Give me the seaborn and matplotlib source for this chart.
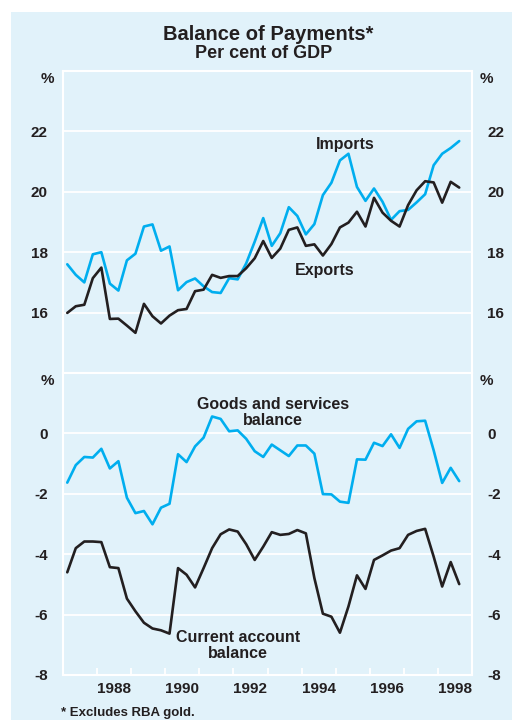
import numpy as np
import pandas as pd
import matplotlib
matplotlib.use("Agg")
import matplotlib.pyplot as plt
import seaborn as sns
from matplotlib.patches import Rectangle

# Quarterly data, 1987 Q1 to 1998 Q3, per cent of GDP
quarters = pd.period_range("1987Q1", "1998Q3", freq="Q")

imports = [17.60, 17.25, 17.00, 17.93, 18.00, 16.96, 16.73, 17.73, 17.95, 18.85,
           18.92, 18.05, 18.19, 16.74, 17.01, 17.13, 16.87, 16.68, 16.65, 17.14,
           17.10, 17.63, 18.35, 19.13, 18.21, 18.63, 19.49, 19.20, 18.59, 18.93,
           19.89, 20.30, 21.04, 21.26, 20.16, 19.70, 20.11, 19.67, 19.07, 19.36,
           19.40, 19.65, 19.92, 20.88, 21.26, 21.45, 21.68]
exports = [15.99, 16.21, 16.26, 17.14, 17.49, 15.79, 15.80, 15.57, 15.33, 16.29,
           15.88, 15.64, 15.90, 16.08, 16.12, 16.71, 16.76, 17.25, 17.15, 17.21,
           17.21, 17.47, 17.80, 18.37, 17.81, 18.12, 18.74, 18.82, 18.21, 18.26,
           17.89, 18.27, 18.82, 18.98, 19.34, 18.85, 19.80, 19.31, 19.04, 18.85,
           19.56, 20.05, 20.35, 20.31, 19.64, 20.33, 20.14]
goods_services = [-1.63, -1.05, -0.78, -0.80, -0.51, -1.16, -0.92, -2.13, -2.64, -2.57,
                  -3.01, -2.46, -2.33, -0.69, -0.95, -0.43, -0.14, 0.56, 0.48, 0.07,
                  0.10, -0.18, -0.59, -0.78, -0.37, -0.56, -0.75, -0.40, -0.40, -0.67,
                  -2.01, -2.02, -2.26, -2.30, -0.86, -0.87, -0.31, -0.42, -0.03, -0.48,
                  0.15, 0.40, 0.42, -0.56, -1.64, -1.14, -1.58]
current_account = [-4.60, -3.80, -3.58, -3.58, -3.60, -4.43, -4.46, -5.47, -5.89, -6.27,
                   -6.46, -6.52, -6.63, -4.46, -4.68, -5.10, -4.46, -3.80, -3.34, -3.18,
                   -3.25, -3.67, -4.19, -3.75, -3.27, -3.36, -3.33, -3.20, -3.31, -4.79,
                   -5.97, -6.07, -6.60, -5.73, -4.70, -5.15, -4.19, -4.04, -3.88, -3.80,
                   -3.36, -3.23, -3.16, -4.08, -5.07, -4.26, -4.99]

year_labels = ["1988", "1990", "1992", "1994", "1996", "1998"]
top_ticks = [16, 18, 20, 22]
bottom_ticks = [-8, -6, -4, -2, 0]

# mid-quarter position in decimal years
t = quarters.year + (quarters.quarter - 0.5) / 4
df = pd.DataFrame({"t": t, "Imports": imports, "Exports": exports,
                   "Goods": goods_services, "Current": current_account})

BG = "#E1F2FA"
CYAN = "#00AEEF"
INK = "#231F20"

sns.set_theme(style="white")
plt.rcParams["font.family"] = ["Liberation Sans", "DejaVu Sans"]
plt.rcParams["font.weight"] = "bold"

fig = plt.figure(figsize=(5.12, 7.2), dpi=100)
fig.patches.append(Rectangle((11 / 512, 0), 1, 1 - 12 / 720, transform=fig.transFigure,
                             facecolor=BG, edgecolor="none", zorder=-10))

ax1 = fig.add_axes([63 / 512, 1 - 373 / 720, 409 / 512, 302 / 720])
ax2 = fig.add_axes([63 / 512, 1 - 675 / 720, 409 / 512, 302 / 720])

sns.lineplot(data=df, x="t", y="Imports", ax=ax1, color=CYAN, lw=1.9)
sns.lineplot(data=df, x="t", y="Exports", ax=ax1, color=INK, lw=1.9)
sns.lineplot(data=df, x="t", y="Goods", ax=ax2, color=CYAN, lw=1.9)
sns.lineplot(data=df, x="t", y="Current", ax=ax2, color=INK, lw=1.9)

for ax, lim, ticks in [(ax1, (14, 24), top_ticks), (ax2, (-8, 2), bottom_ticks)]:
    ax.set_facecolor(BG)
    ax.set_xlim(1987, 1999)
    ax.set_ylim(*lim)
    ax.set_yticks(ticks)
    ax.set_yticklabels([str(v) for v in ticks], fontsize=11, fontweight="bold", color=INK)
    ax.grid(axis="y", color="white", lw=1.3)
    ax.set_axisbelow(True)
    ax.set_xlabel("")
    ax.set_ylabel("")
    for s in ax.spines.values():
        s.set_color("white")
        s.set_linewidth(1.5)
    ax.tick_params(axis="y", left=False, right=False, labelleft=True, labelright=True, pad=5)
    ax.text(-0.037, 0.975, "%", transform=ax.transAxes, ha="center", va="center",
            fontsize=11, fontweight="bold", color=INK)
    ax.text(1.034, 0.975, "%", transform=ax.transAxes, ha="center", va="center",
            fontsize=11, fontweight="bold", color=INK)

ax1.set_xticks([])
ax2.set_xticks(range(1988, 1999))
ax2.set_xticklabels([])
ax2.tick_params(axis="x", which="major", direction="in", length=5, width=1.3,
                color="white", bottom=True)
ax2.set_xticks([int(y) + 0.5 for y in year_labels], minor=True)
ax2.set_xticklabels(year_labels, minor=True, fontsize=11, fontweight="bold", color=INK)
ax2.tick_params(axis="x", which="minor", length=0, pad=5)

lab = dict(fontsize=11.5, fontweight="bold", color=INK, ha="center", va="center",
           linespacing=1.05)
ax1.text(1995.29, 21.57, "Imports", **lab)
ax1.text(1994.69, 17.40, "Exports", **lab)
ax2.text(1993.16, 0.69, "Goods and services\nbalance", **lab)
ax2.text(1992.13, -7.02, "Current account\nbalance", **lab)

fig.text(268 / 512, 1 - 34 / 720, "Balance of Payments*", ha="center", va="center",
         fontsize=14.5, fontweight="bold", color=INK)
fig.text(264 / 512, 1 - 53 / 720, "Per cent of GDP", ha="center", va="center",
         fontsize=13, fontweight="bold", color=INK)
fig.text(61 / 512, 1 - 713 / 720, "* Excludes RBA gold.", ha="left", va="center",
         fontsize=9.5, fontweight="bold", color=INK)

fig.savefig("out.png", dpi=100, facecolor="white")
